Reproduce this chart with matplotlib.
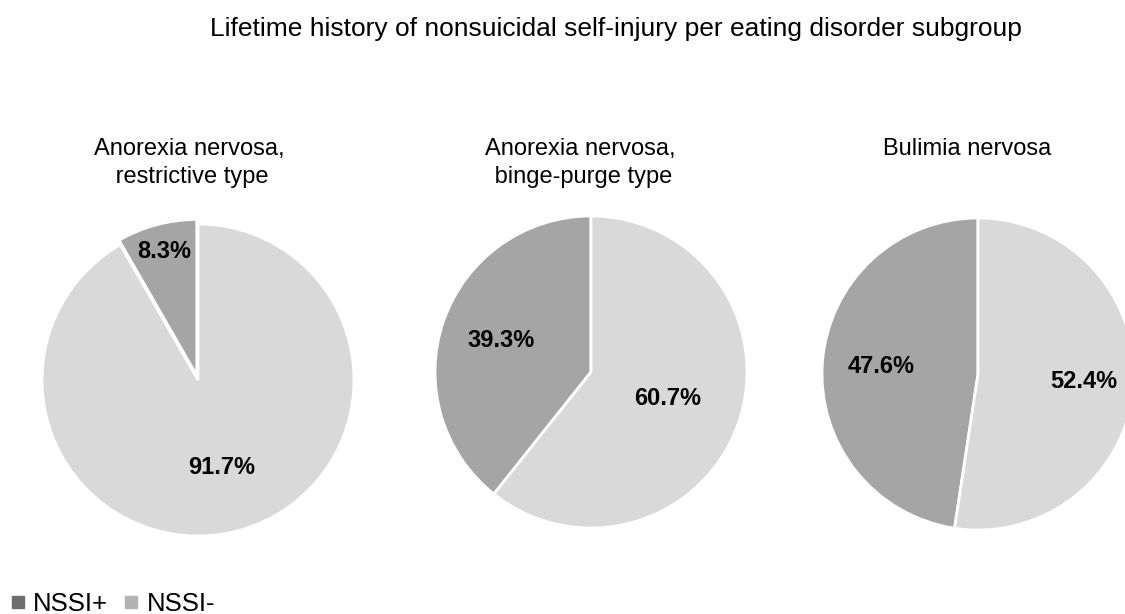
import matplotlib
matplotlib.use("Agg")
import matplotlib.pyplot as plt
from matplotlib.lines import Line2D
import numpy as np

plt.rcParams['font.family'] = ['Liberation Sans', 'DejaVu Sans']

title = "Lifetime history of nonsuicidal self-injury per eating disorder subgroup"
groups = ["Anorexia nervosa,\n restrictive type",
          "Anorexia nervosa,\n binge-purge type",
          "Bulimia nervosa"]
series = ["NSSI+", "NSSI-"]
nssi_pos = [8.3, 39.3, 47.6]
nssi_neg = [91.7, 60.7, 52.4]

pie_colors = ["#a5a5a5", "#d9d9d9"]
legend_colors = ["#6e6e6e", "#b3b3b3"]

W, H = 1125, 614
R = 156
centers = [(198, 380), (591, 372), (978, 374)]
title_pos = [(189, 163), (580, 163), (967, 149)]
explodes = [[0.03, 0], [0, 0], [0, 0]]
label_dist = [[0.82, 0.58], [0.61, 0.52], [0.62, 0.68]]

fig = plt.figure(figsize=(W / 100, H / 100), dpi=100)
fig.text(616 / W, 1 - 29 / H, title, ha="center", va="center", fontsize=19)

for i in range(3):
    cx, cy = centers[i]
    ax = fig.add_axes([(cx - R) / W, 1 - (cy + R) / H, 2 * R / W, 2 * R / H])
    wedges, texts, autotexts = ax.pie(
        [nssi_pos[i], nssi_neg[i]], colors=pie_colors, startangle=90,
        explode=explodes[i], autopct="%.1f%%", radius=1,
        wedgeprops=dict(edgecolor="white", linewidth=2),
        textprops=dict(fontsize=17, fontweight="bold", color="black"))
    for w, t, d in zip(wedges, autotexts, label_dist[i]):
        ang = np.deg2rad((w.theta1 + w.theta2) / 2)
        x0, y0 = w.center
        t.set_position((x0 + d * np.cos(ang), y0 + d * np.sin(ang)))
        t.set_va("center")
    ax.set_xlim(-1, 1)
    ax.set_ylim(-1, 1)
    ax.axis("off")
    tx, ty = title_pos[i]
    fig.text(tx / W, 1 - ty / H, groups[i], ha="center", va="center",
             fontsize=17, linespacing=1.3)

handles = [Line2D([], [], marker="s", linestyle="none", markersize=8,
                  markerfacecolor=c, markeredgecolor=c) for c in legend_colors]
fig.legend(handles, series, loc="center left",
           bbox_to_anchor=(10 / W, 1 - 604 / H), ncol=2, frameon=False,
           fontsize=18.5, handlelength=0.6, handletextpad=0.3,
           columnspacing=0.6, borderpad=0, borderaxespad=0)

fig.savefig("out.png", dpi=100)
